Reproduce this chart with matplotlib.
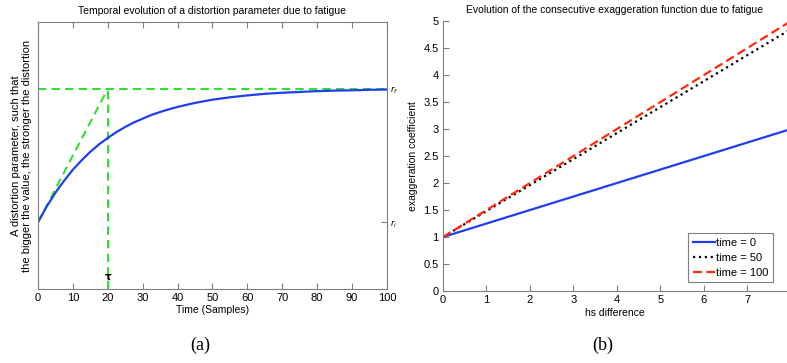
import matplotlib
matplotlib.use("Agg")
import matplotlib.pyplot as plt

plt.rcParams['font.family'] = ['Liberation Sans', 'DejaVu Sans']

# (a) distortion parameter vs time
t_samples = [0, 2.5, 5, 7.5, 10, 12.5, 15, 17.5, 20, 22.5, 25, 27.5, 30, 32.5,
             35, 37.5, 40, 45, 50, 55, 60, 65, 70, 75, 80, 85, 90, 95, 100]
r_values = [0.25, 0.309, 0.361, 0.406, 0.447, 0.482, 0.514, 0.542, 0.566,
            0.588, 0.607, 0.624, 0.638, 0.652, 0.663, 0.673, 0.682, 0.697,
            0.709, 0.718, 0.725, 0.731, 0.735, 0.738, 0.741, 0.743, 0.744,
            0.746, 0.747]
r_i = 0.25
r_f = 0.75
tau = 20
time_ticks = list(range(0, 101, 10))

# (b) exaggeration coefficient vs hs difference
hs = [0, 8]
coef_t0 = [1.0, 3.0]
coef_t50 = [1.0, 4.85]
coef_t100 = [1.0, 5.0]
hs_ticks = list(range(0, 8))
coef_ticks = [0, 0.5, 1, 1.5, 2, 2.5, 3, 3.5, 4, 4.5, 5]

blue = '#1f3ef2'
green = '#2fe02f'
red = '#ff2a0a'
gray = '#7f7f7f'
fs = 7.5

fig = plt.figure(figsize=(7.87, 3.63), dpi=100)

# ---- left panel
ax1 = fig.add_axes([0.0483, 0.2039, 0.4434, 0.7355])
ax1.plot([0, 100], [r_f, r_f], '--', color=green, lw=1.5, dashes=(4, 2.5))
ax1.plot([0, tau], [r_i, r_f], '--', color=green, lw=1.5, dashes=(4, 2.5))
ax1.plot([tau, tau], [0, r_f], '--', color=green, lw=1.5, dashes=(4, 2.5))
ax1.plot(t_samples, r_values, color=blue, lw=1.6)
ax1.text(tau, 0.045, 'τ', fontsize=7.5, fontweight='bold', ha='center',
         va='center', family='DejaVu Sans')
ax1.set_xlim(0, 100)
ax1.set_ylim(0, 1)
ax1.set_xticks(time_ticks)
ax1.yaxis.tick_right()
ax1.set_yticks([r_i, r_f])
ax1.set_yticklabels([r'$r_i$', r'$r_f$'], fontsize=6)
ax1.yaxis.set_label_position('left')
ax1.tick_params(axis='x', direction='in', top=True, length=4, labelsize=fs + 0.5,
                color=gray, pad=3)
ax1.tick_params(axis='y', direction='in', length=4, color=gray, pad=2)
for s in ax1.spines.values():
    s.set_color(gray)
ax1.set_title('Temporal evolution of a distortion parameter due to fatigue',
              fontsize=fs, pad=6)
ax1.set_xlabel('Time (Samples)', fontsize=fs, labelpad=1)
ax1.set_ylabel('A distortion parameter, such that\n'
               'the bigger the value, the stronger the distortion',
               fontsize=8, labelpad=4)

# ---- right panel
ax2 = fig.add_axes([0.5629, 0.1983, 0.4371, 0.7438])
ax2.plot(hs, coef_t0, '-', color=blue, lw=1.6, label='time = 0')
ax2.plot(hs, coef_t50, ':', color='black', lw=1.6, label='time = 50')
ax2.plot(hs, coef_t100, '--', color=red, lw=1.6, dashes=(4, 2), label='time = 100')
ax2.set_xlim(0, 7.91)
ax2.set_ylim(0, 5)
ax2.set_xticks(hs_ticks)
ax2.set_yticks(coef_ticks)
ax2.set_yticklabels(['0', '0.5', '1', '1.5', '2', '2.5', '3', '3.5', '4', '4.5', '5'])
ax2.spines['top'].set_visible(False)
ax2.spines['right'].set_visible(False)
for s in ['left', 'bottom']:
    ax2.spines[s].set_color(gray)
ax2.tick_params(direction='in', length=4, labelsize=fs + 0.5, color=gray, pad=3)
ax2.set_title('Evolution of the consecutive exaggeration function due to fatigue',
              fontsize=fs, pad=6)
ax2.set_xlabel('hs difference', fontsize=fs, labelpad=2)
ax2.set_ylabel('exaggeration coefficient', fontsize=fs, labelpad=4)
leg = ax2.legend(loc='lower right', fontsize=8, handlelength=2.0,
                 handletextpad=0.1, borderpad=0.4, labelspacing=0.45,
                 fancybox=False, framealpha=1, bbox_to_anchor=(0.975, 0.012))
leg.get_frame().set_edgecolor(gray)
leg.get_frame().set_linewidth(0.8)

# panel captions
fig.text(200 / 787, 1 - 345 / 363, '(a)', fontsize=13, family='Liberation Serif',
         ha='center', va='center')
fig.text(603 / 787, 1 - 345 / 363, '(b)', fontsize=13, family='Liberation Serif',
         ha='center', va='center')

fig.savefig('out.png', dpi=100)
